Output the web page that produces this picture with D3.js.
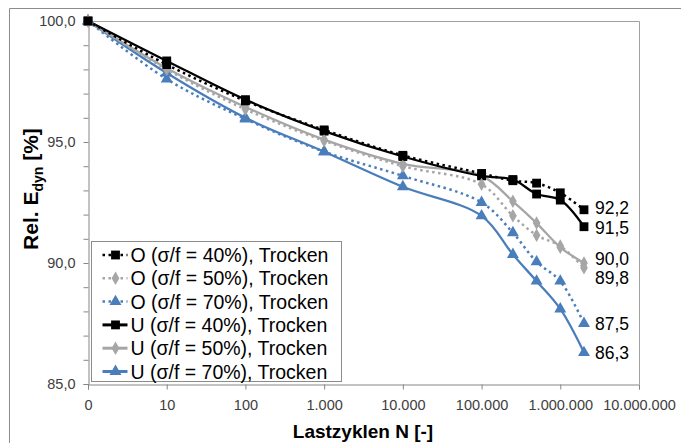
<!DOCTYPE html>
<html>
<head>
<meta charset="utf-8">
<script src="https://cdn.jsdelivr.net/npm/d3@7"></script>
<style>
  body { margin: 0; background: #fff; }
  text { font-family: Arial, "Liberation Sans", sans-serif; }
</style>
</head>
<body>
<div id="chart"></div>
<script>
// load cycles, 0 is drawn at the position of 1 on the log axis
var cycles = [0, 10, 100, 1000, 10000, 100000, 250000, 500000, 1000000, 2000000];

var o40 = [100, 98.2, 96.7, 95.5, 94.45, 93.7, 93.4, 93.3, 92.9, 92.2];
var o50 = [100, 98.0, 96.35, 95.05, 94.0, 93.25, 91.95, 91.15, 90.7, 89.8];
var o70 = [100, 97.6, 95.95, 94.6, 93.6, 92.5, 91.25, 90.05, 89.25, 87.5];
var u40 = [100, 98.35, 96.75, 95.45, 94.4, 93.6, 93.45, 92.85, 92.6, 91.5];
var u50 = [100, 98.05, 96.45, 95.1, 94.1, 93.6, 92.55, 91.65, 90.65, 90.0];
var u70 = [100, 97.85, 96.0, 94.6, 93.15, 91.95, 90.35, 89.25, 88.1, 86.3];

var seriesNames = ["O (σ/f = 40%), Trocken", "O (σ/f = 50%), Trocken", "O (σ/f = 70%), Trocken",
                   "U (σ/f = 40%), Trocken", "U (σ/f = 50%), Trocken", "U (σ/f = 70%), Trocken"];
var endLabels = ["92,2", "89,8", "87,5", "91,5", "90,0", "86,3"];

var xTicks = [1, 10, 100, 1000, 10000, 100000, 1000000, 10000000];
var yTicks = [85, 90, 95, 100];

var width = 681, height = 443;
var plot = { left: 88, right: 639, top: 21, bottom: 384 };

var black = "#000000", grey = "#a6a6a6", blue = "#4a7ebb";

var series = [
    { values: o40, colour: black, dotted: true, symbol: d3.symbolSquare, size: 78, labelShift: -1.5 },
    { values: o50, colour: grey, dotted: true, symbol: d3.symbolDiamond, size: 52, labelShift: 10.5 },
    { values: o70, colour: blue, dotted: true, symbol: d3.symbolTriangle, size: 62, labelShift: 0 },
    { values: u40, colour: black, dotted: false, symbol: d3.symbolSquare, size: 78, labelShift: 1.5 },
    { values: u50, colour: grey, dotted: false, symbol: d3.symbolDiamond, size: 52, labelShift: -4.5 },
    { values: u70, colour: blue, dotted: false, symbol: d3.symbolTriangle, size: 62, labelShift: 0 }
];
series.forEach(function(s, i) { s.name = seriesNames[i]; s.label = endLabels[i]; });

var x = d3.scaleLog().domain([1, 1e7]).range([plot.left, plot.right]);
var y = d3.scaleLinear().domain([85, 100]).range([plot.bottom, plot.top]);

var px = function(n) { return x(Math.max(n, 1)); };
var fmtX = function(d) {
    if (d === 1) return "0";
    return d3.format(",")(d).replace(/,/g, ".");
};
var fmtY = function(d) { return d3.format(".1f")(d).replace(".", ","); };

var svg = d3.select("#chart").append("svg")
    .attr("width", width)
    .attr("height", height);

// outer chart frame
svg.append("path")
    .attr("d", "M9.5," + height + "V8.5H" + width)
    .attr("fill", "none")
    .attr("stroke", "#8c8c8c")
    .attr("stroke-width", 1);

// plot area border (top and right)
svg.append("path")
    .attr("d", "M" + plot.left + "," + (plot.top + 0.5) + "H" + (plot.right + 0.5) + "V" + plot.bottom)
    .attr("fill", "none")
    .attr("stroke", "#a0a0a0")
    .attr("stroke-width", 1);

// y axis
var yAxis = d3.axisLeft(y)
    .tickValues(d3.range(85, 101, 1))
    .tickSize(5)
    .tickFormat(function(d) { return yTicks.indexOf(d) >= 0 ? fmtY(d) : ""; });

var gy = svg.append("g")
    .attr("transform", "translate(" + (plot.left + 0.5) + ",0)")
    .call(yAxis);
gy.select(".domain").attr("stroke", "#868686");
gy.selectAll(".tick line").attr("stroke", "#868686");
gy.selectAll(".tick text")
    .attr("font-size", "14.5px")
    .attr("fill", "#404040")
    .attr("x", -13);

// x axis
var xAxis = d3.axisBottom(x)
    .tickValues(xTicks)
    .tickSize(5)
    .tickFormat(fmtX);

var gx = svg.append("g")
    .attr("transform", "translate(0," + (plot.bottom + 0.5) + ")")
    .call(xAxis);
gx.select(".domain").attr("stroke", "#868686");
gx.selectAll(".tick line").attr("stroke", "#868686");
gx.selectAll(".tick text")
    .attr("font-size", "14.5px")
    .attr("fill", "#404040")
    .attr("y", 15);

// axis titles
svg.append("text")
    .attr("x", 363)
    .attr("y", 438)
    .attr("text-anchor", "middle")
    .attr("font-size", "19px")
    .attr("font-weight", "bold")
    .text("Lastzyklen N [-]");

var yTitle = svg.append("text")
    .attr("transform", "translate(38,189) rotate(-90)")
    .attr("text-anchor", "middle")
    .attr("font-size", "21px")
    .attr("font-weight", "bold");
yTitle.append("tspan").text("Rel. E");
yTitle.append("tspan").attr("font-size", "14px").attr("dy", 5).text("dyn");
yTitle.append("tspan").attr("dy", -5).text(" [%]");

// lines
var line = d3.line()
    .x(function(d) { return px(d[0]); })
    .y(function(d) { return y(d[1]); })
    .curve(d3.curveCatmullRom.alpha(0.5));

var drawOrder = [5, 4, 3, 2, 1, 0];
drawOrder.forEach(function(i) {
    var s = series[i];
    var pts = cycles.map(function(c, j) { return [c, s.values[j]]; });
    var g = svg.append("g").attr("class", "series");
    g.append("path")
        .datum(pts)
        .attr("d", line)
        .attr("fill", "none")
        .attr("stroke", s.colour)
        .attr("stroke-width", s.dotted ? 2.5 : 2.25)
        .attr("stroke-dasharray", s.dotted ? "2.5,3.5" : null);
    g.selectAll("path.marker")
        .data(pts)
        .enter()
        .append("path")
        .attr("class", "marker")
        .attr("d", d3.symbol().type(s.symbol).size(s.size))
        .attr("transform", function(d) {
            return "translate(" + px(d[0]) + "," + y(d[1]) + ")";
        })
        .attr("fill", s.colour);
});

// end labels
series.forEach(function(s) {
    var last = s.values[s.values.length - 1];
    svg.append("text")
        .attr("x", px(cycles[cycles.length - 1]) + 11)
        .attr("y", y(last) + s.labelShift)
        .attr("dy", "0.35em")
        .attr("font-size", "17.5px")
        .attr("fill", "#000")
        .text(s.label);
});

// legend
var legend = svg.append("g").attr("transform", "translate(91.5,241.5)");
legend.append("rect")
    .attr("width", 250)
    .attr("height", 140)
    .attr("fill", "#fff")
    .attr("stroke", "#8c8c8c");

var rows = legend.selectAll("g.row")
    .data(series)
    .enter()
    .append("g")
    .attr("class", "row")
    .attr("transform", function(d, i) { return "translate(0," + (13.5 + i * 23.3) + ")"; });

rows.append("line")
    .attr("x1", 11)
    .attr("x2", 36)
    .attr("stroke", function(d) { return d.colour; })
    .attr("stroke-width", function(d) { return d.dotted ? 2.5 : 3; })
    .attr("stroke-dasharray", function(d) { return d.dotted ? "2.5,3.5" : null; });

rows.append("path")
    .attr("d", function(d) { return d3.symbol().type(d.symbol).size(d.size)(); })
    .attr("transform", "translate(24,0)")
    .attr("fill", function(d) { return d.colour; });

rows.append("text")
    .attr("x", 39)
    .attr("dy", "0.36em")
    .attr("font-size", "19.5px")
    .attr("fill", "#000")
    .text(function(d) { return d.name; });
</script>
</body>
</html>
